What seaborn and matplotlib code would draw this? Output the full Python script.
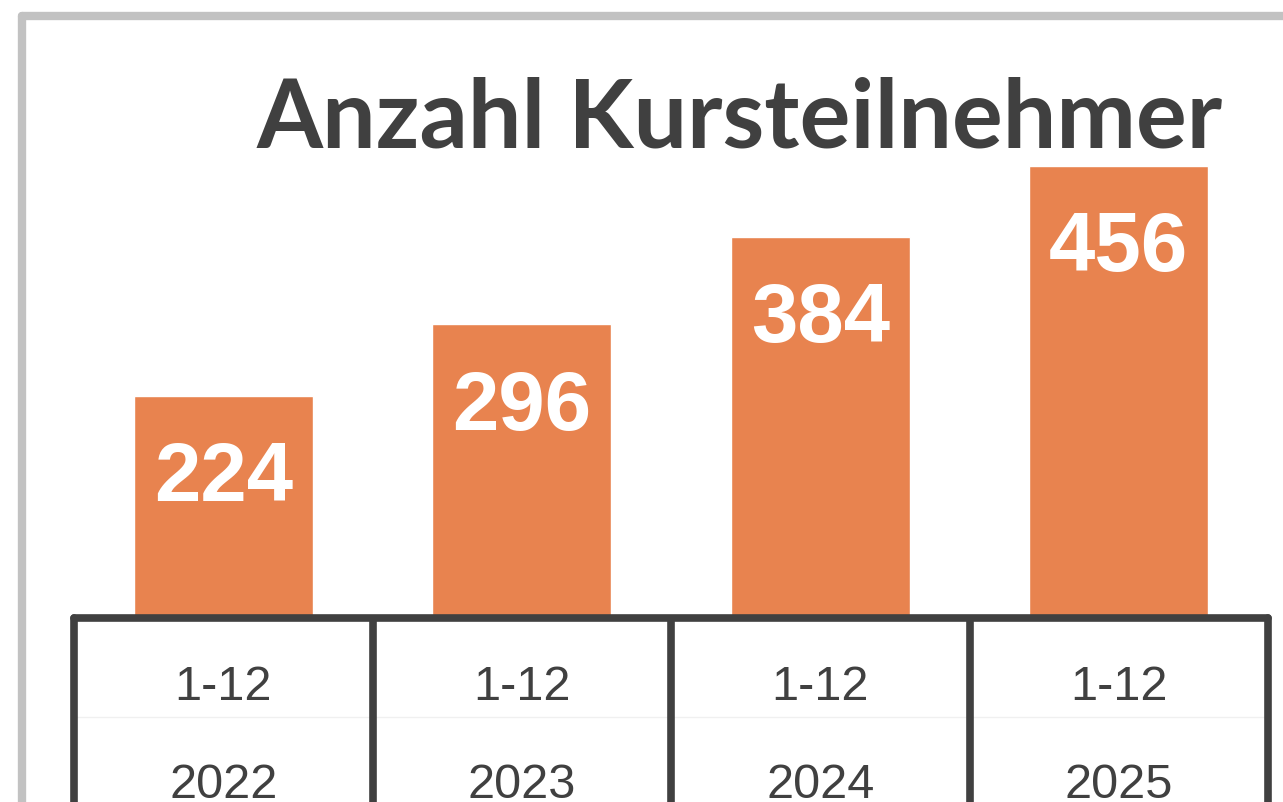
import matplotlib
matplotlib.use("Agg")
import matplotlib.pyplot as plt
import seaborn as sns
from matplotlib.lines import Line2D

# data
years = ["2022", "2023", "2024", "2025"]
periods = ["1-12", "1-12", "1-12", "1-12"]
participants = [224, 296, 384, 456]

title = "Anzahl Kursteilnehmer"
bar_color = "#E8834F"
dark = "#404040"

sns.set_theme(style="white")
plt.rcParams['font.family'] = ['Liberation Sans', 'DejaVu Sans']

W, H = 1283, 802
fig = plt.figure(figsize=(W / 100, H / 100), dpi=100)
fig.patch.set_facecolor("white")

# bars
ax = fig.add_axes([74 / W, (H - 618) / H, 1194 / W, (618 - 150) / H])
sns.barplot(x=years, y=participants, color=bar_color, saturation=1,
            width=0.6, ax=ax)
ax.set_xlim(-0.5, 3.5)
ax.set_ylim(0, 468 / 0.992)
ax.axis("off")
for i, v in enumerate(participants):
    ax.annotate(str(v), xy=(i, v), xytext=(0, -60), textcoords="offset points",
                ha="center", va="center", color="white", fontsize=60,
                fontweight="bold")

# table below the bars (the year row is cut by the lower edge, as in the original)
tab = fig.add_axes([74 / W, 0, 1194 / W, (H - 618) / H])
tab.set_xlim(-0.5, 3.5)
tab.set_ylim(184, 0)
tab.set_xticks([])
tab.set_yticks([])
tab.set_facecolor("none")
for side in ["top", "left", "right"]:
    tab.spines[side].set_linewidth(5.5)
    tab.spines[side].set_color(dark)
    tab.spines[side].set_capstyle("round")
tab.spines["bottom"].set_visible(False)
for i in range(1, len(years)):
    tab.axvline(i - 0.5, color=dark, lw=5.5)
tab.axhline(99, color="#f0f0f0", lw=1, zorder=0)
for i, (p, y) in enumerate(zip(periods, years)):
    tab.text(i, 70, p, ha="center", va="center", fontsize=35, color=dark)
    tab.text(i, 168, y, ha="center", va="center", fontsize=35, color=dark)

# title
fig.text(740 / W, 1 - 120 / H, title, ha="center", va="center",
         fontsize=68.5, fontweight="bold", color=dark, family=["Lato", "DejaVu Sans"])

# grey frame around the picture
fig.add_artist(Line2D([22 / W, 1.0], [1 - 16 / H, 1 - 16 / H],
                      transform=fig.transFigure, color="#C2C2C2", lw=6))
fig.add_artist(Line2D([22 / W, 22 / W], [1 - 16 / H, 0],
                      transform=fig.transFigure, color="#C2C2C2", lw=6))

fig.savefig("out.png", dpi=100)
